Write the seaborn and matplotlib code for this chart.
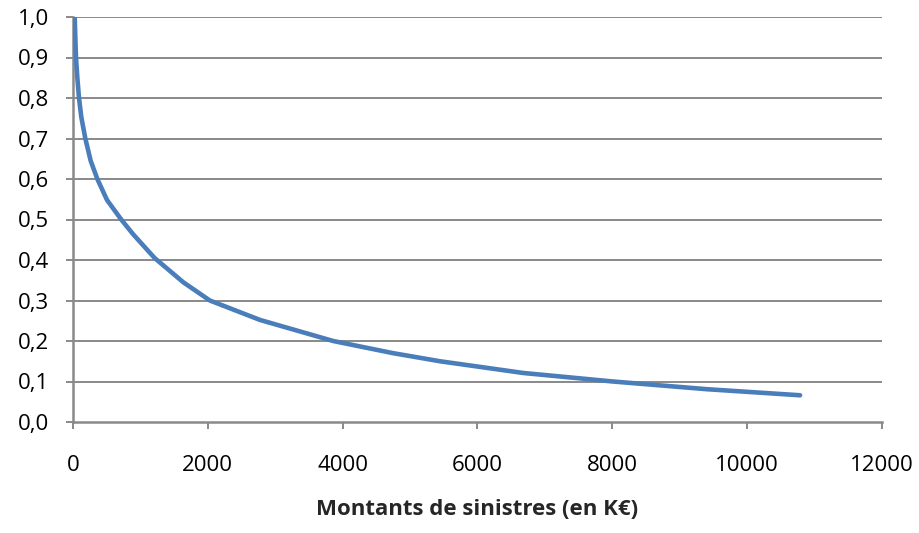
import matplotlib
matplotlib.use("Agg")
import matplotlib.pyplot as plt
import seaborn as sns
import pandas as pd

# Valeurs
montants = [25, 44, 64, 89, 124, 183, 262, 361, 505, 715, 895, 1210,
            1636, 2030, 2774, 3860, 4747, 5443, 6680, 8010, 9400, 10785]
proba = [1.0, 0.9, 0.851, 0.8, 0.752, 0.7, 0.645, 0.6, 0.548, 0.5, 0.463,
         0.405, 0.345, 0.3, 0.252, 0.2, 0.17, 0.15, 0.121, 0.1, 0.081, 0.066]
y_ticks = [0.0, 0.1, 0.2, 0.3, 0.4, 0.5, 0.6, 0.7, 0.8, 0.9, 1.0]
x_ticks = [0, 2000, 4000, 6000, 8000, 10000, 12000]

df = pd.DataFrame({"montant": montants, "proba": proba})

sns.set_style("white")
plt.rcParams['font.family'] = ['Open Sans', 'DejaVu Sans']

fig = plt.figure(figsize=(9.2, 5.33), dpi=100)
ax = fig.add_axes([73 / 920, 111 / 533, 809 / 920, 405 / 533])

grid_col = "#898989"
for v in y_ticks[1:]:
    ax.axhline(v, color=grid_col, lw=1.4, zorder=1)

sns.lineplot(data=df, x="montant", y="proba", ax=ax, color="#4A7EBB",
             lw=3.3, solid_capstyle="round", solid_joinstyle="round", zorder=3)

ax.set_xlim(0, 12000)
ax.set_ylim(0, 1.0)
ax.set_xticks(x_ticks)
ax.set_xticklabels([str(v) for v in x_ticks])
ax.set_yticks(y_ticks)
ax.set_yticklabels([f"{v:.1f}".replace(".", ",") for v in y_ticks])

for side in ["top", "right"]:
    ax.spines[side].set_visible(False)
for side in ["left", "bottom"]:
    ax.spines[side].set_color(grid_col)
    ax.spines[side].set_linewidth(1.8)

ax.tick_params(axis="both", direction="out", length=5, width=1.4,
               color=grid_col, labelsize=16, labelcolor="black")
ax.tick_params(axis="x", pad=19, bottom=True)
ax.tick_params(axis="y", pad=12, left=True)

ax.set_xlabel("Montants de sinistres (en K€)", fontsize=16,
              fontweight="bold", labelpad=16)
ax.set_ylabel("")

fig.savefig("out.png", dpi=100)
